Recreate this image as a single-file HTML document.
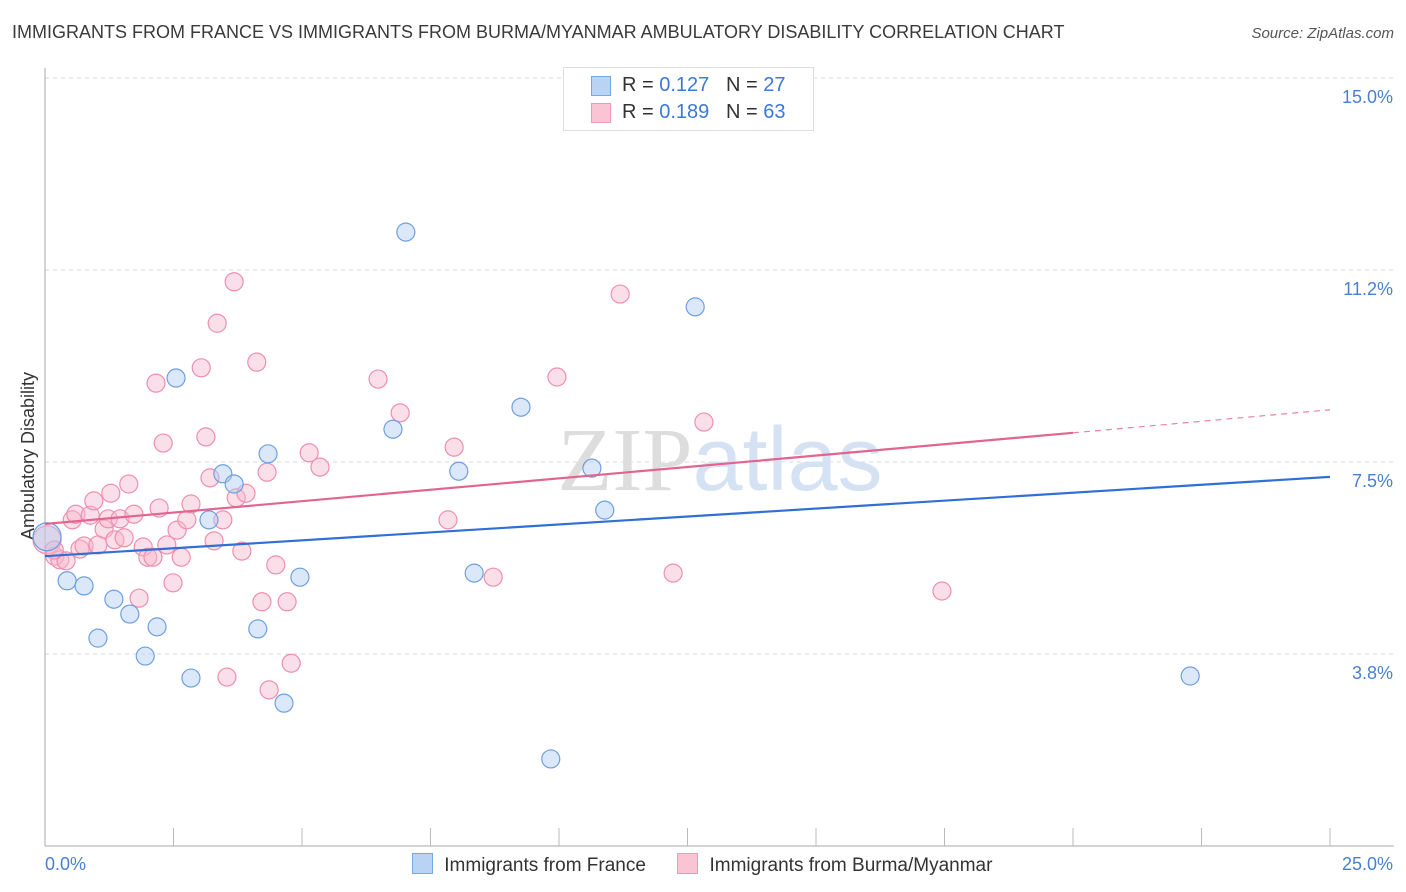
<!DOCTYPE html>
<html><head><meta charset="utf-8">
<style>
body{margin:0;background:#fff;font-family:"Liberation Sans",sans-serif;}
#wrap{position:relative;width:1406px;height:892px;overflow:hidden;}
.title{position:absolute;left:12px;top:22px;font-size:18px;color:#3a3a3a;}
.source{position:absolute;right:12px;top:25px;font-size:15px;color:#555;font-style:italic;}
</style></head>
<body>
<div id="wrap">
<div class="title">IMMIGRANTS FROM FRANCE VS IMMIGRANTS FROM BURMA/MYANMAR AMBULATORY DISABILITY CORRELATION CHART</div>
<div class="source">Source: ZipAtlas.com</div>
<svg id="chart" width="1406" height="892" style="position:absolute;left:0;top:0"></svg>
</div>
<script>
const blueX=[0.04,0.43,0.76,1.03,1.34,1.65,1.95,2.18,2.55,2.84,3.19,3.46,3.68,4.14,4.34,4.65,4.96,6.77,7.02,8.05,8.35,9.26,9.84,10.64,10.89,12.65,22.28];
const blueY=[6.04,5.18,5.08,4.06,4.82,4.53,3.71,4.28,9.14,3.28,6.37,7.27,7.07,4.24,7.66,2.79,5.25,8.14,11.99,7.32,5.33,8.57,1.70,7.38,6.56,10.53,3.32];
const pinkX=[0.04,0.19,0.29,0.41,0.53,0.60,0.68,0.76,0.88,0.95,1.03,1.15,1.23,1.28,1.36,1.46,1.54,1.63,1.73,1.83,1.91,2.00,2.10,2.16,2.22,2.30,2.37,2.49,2.57,2.65,2.76,2.84,3.04,3.13,3.21,3.29,3.35,3.46,3.54,3.68,3.72,3.83,3.91,4.12,4.22,4.32,4.36,4.49,4.71,4.79,5.14,5.35,6.48,6.91,7.84,7.96,8.72,9.96,11.19,12.22,12.82,17.45,0.18];
const pinkY=[5.98,5.66,5.59,5.57,6.37,6.48,5.80,5.86,6.46,6.74,5.88,6.19,6.39,6.89,5.98,6.39,6.02,7.07,6.48,4.84,5.84,5.64,5.64,9.04,6.60,7.87,5.88,5.14,6.17,5.64,6.37,6.68,9.34,7.99,7.19,5.96,10.21,6.37,3.30,11.02,6.80,5.76,6.89,9.45,4.77,7.30,3.05,5.49,4.77,3.57,7.68,7.40,9.12,8.46,6.37,7.79,5.25,9.16,10.78,5.33,8.28,4.98,5.78];
const blueTrend=[5.66,7.21];
const pinkTrend=[6.29,8.07,8.52];
const yTicks=[3.75,7.5,11.25,15];
const yTickLabels=["3.8%","7.5%","11.2%","15.0%"];
const xTicks=[2.5,5,7.5,10,12.5,15,17.5,20,22.5,25];

const NS="http://www.w3.org/2000/svg";
const svg=document.getElementById('chart');
const X=v=>45+v*51.4;
const Y=v=>846-v*51.2;
function mk(tag,attrs,parent){const e=document.createElementNS(NS,tag);for(const k in attrs)e.setAttribute(k,attrs[k]);(parent||svg).appendChild(e);return e;}

// gridlines & y labels
yTicks.forEach((t,i)=>{
 const g=mk('line',{x1:45,x2:1394,y1:Y(t),y2:Y(t),stroke:'#d8d8d8','stroke-dasharray':'4,4'});
 
 
 const l=mk('text',{x:1393,y:Y(t)+25,'text-anchor':'end','font-size':18,fill:'#4a7fd0','font-family':'Liberation Sans, sans-serif'});
 l.textContent=yTickLabels[i];
 
 
});
// axes
const ax=mk('line',{x1:45,x2:45,y1:68,y2:846,stroke:'#aaa'});


const bx=mk('line',{x1:45,x2:1394,y1:846,y2:846,stroke:'#aaa'});


xTicks.forEach(t=>{
 const k=mk('line',{x1:X(t),x2:X(t),y1:828,y2:846,stroke:'#bbb'});
 
 
});
[['0.0%',45,'start'],['25.0%',1393,'end']].forEach(a=>{
 const t=mk('text',{x:a[1],y:870,'text-anchor':a[2],'font-size':18,fill:'#4a7fd0'});
 t.textContent=a[0];
 
 
});
const yt=mk('text',{x:0,y:0,transform:'translate(34,456) rotate(-90)','text-anchor':'middle','font-size':18,fill:'#333'});
yt.textContent='Ambulatory Disability';


// watermark
const wm=mk('text',{x:720,y:490,'text-anchor':'middle','font-size':90,fill:'#e4e4e4'});
wm.innerHTML='<tspan font-family="Liberation Serif, serif" fill="#ddd">ZIP</tspan><tspan fill="#d4e2f4">atlas</tspan>';



function pts(xs,ys,fill,stroke,name){
 xs.forEach((x,i)=>{
  const r=(i===0)?14:9;
  const c=mk('circle',{cx:X(x),cy:Y(ys[i]),r:r,fill:fill,'fill-opacity':0.45,stroke:stroke,'stroke-width':1.2});
  
  
 });
}
pts(pinkX,pinkY,'#f7b7cc','#ee8fae','pink-point');
pts(blueX,blueY,'#afcdf2','#6f9fe0','blue-point');
// trends
const bl=mk('line',{x1:X(0),y1:Y(blueTrend[0]),x2:X(25),y2:Y(blueTrend[1]),stroke:'#2f6fd6','stroke-width':2.2});


const pl=mk('line',{x1:X(0),y1:Y(pinkTrend[0]),x2:X(20),y2:Y(pinkTrend[1]),stroke:'#e2648f','stroke-width':2.2});


const pd=mk('line',{x1:X(20),y1:Y(pinkTrend[1]),x2:X(25),y2:Y(pinkTrend[2]),stroke:'#e2648f','stroke-width':1.2,'stroke-dasharray':'6,5','opacity':0.8});


</script>
<div style="position:absolute;left:563px;top:67px;width:249px;height:62px;border:1px solid #ddd;background:#fff;font-size:20px;color:#333">
 <div style="position:absolute;left:27px;top:8px;width:18px;height:18px;background:#b8d3f3;border:1px solid #7aa7e0"></div>
 <div style="position:absolute;left:58px;top:6px">R = <span style="color:#3c78d8">0.127</span>&nbsp;&nbsp;&nbsp;N = <span style="color:#3c78d8">27</span></div>
 <div style="position:absolute;left:27px;top:35px;width:18px;height:18px;background:#fac4d5;border:1px solid #ef9ab5"></div>
 <div style="position:absolute;left:58px;top:33px">R = <span style="color:#3c78d8">0.189</span>&nbsp;&nbsp;&nbsp;N = <span style="color:#3c78d8">63</span></div>
</div>
<div style="position:absolute;left:412px;top:853px;font-size:19px;color:#333;white-space:nowrap">
 <span style="display:inline-block;width:19px;height:19px;background:#b8d3f3;border:1px solid #7aa7e0;vertical-align:-3px"></span>
 <span style="margin-left:6px">Immigrants from France</span>
 <span style="display:inline-block;width:19px;height:19px;background:#fac4d5;border:1px solid #ef9ab5;vertical-align:-3px;margin-left:26px"></span>
 <span style="margin-left:6px">Immigrants from Burma/Myanmar</span>
</div>
</body></html>
